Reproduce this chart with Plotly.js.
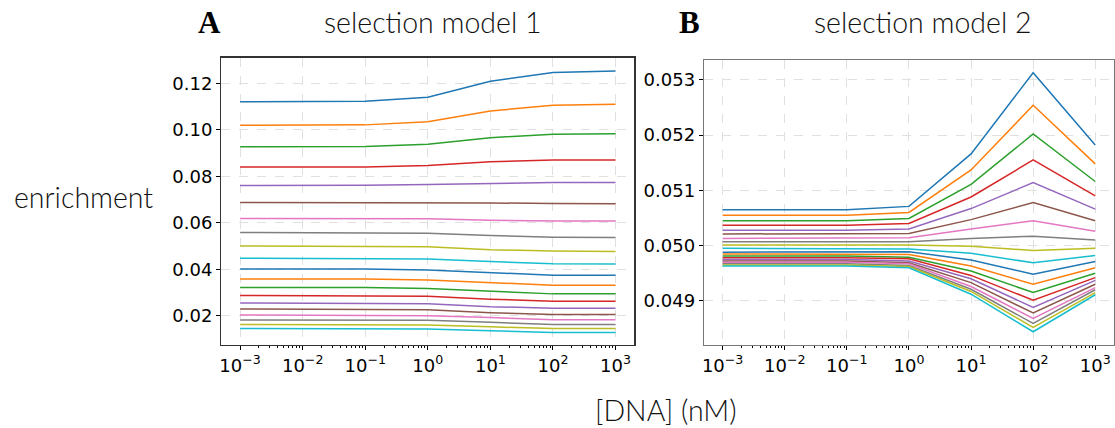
<!DOCTYPE html>
<html>
<head>
<meta charset="utf-8">
<script src="https://cdn.plot.ly/plotly-3.0.1.min.js"></script>
<style>
  html, body { margin: 0; padding: 0; background: #ffffff; }
  #chart { width: 1115px; height: 428px; }
</style>
</head>
<body>
<div id="chart"></div>
<script>
// ---- data ----
const concentrations = [0.001, 0.01, 0.1, 1, 10, 100, 1000];

const model1 = [
  [0.1120, 0.1120, 0.1123, 0.1140, 0.1209, 0.1246, 0.1253],
  [0.1019, 0.1019, 0.1021, 0.1034, 0.1081, 0.1105, 0.1110],
  [0.0927, 0.0927, 0.0928, 0.0938, 0.0966, 0.0981, 0.0983],
  [0.0840, 0.0840, 0.0840, 0.0846, 0.0862, 0.0870, 0.0870],
  [0.0760, 0.0760, 0.0761, 0.0764, 0.0768, 0.0773, 0.0773],
  [0.0687, 0.0687, 0.0687, 0.0687, 0.0685, 0.0683, 0.0682],
  [0.0618, 0.0618, 0.0618, 0.0617, 0.0611, 0.0607, 0.0607],
  [0.0558, 0.0558, 0.0558, 0.0555, 0.0545, 0.0538, 0.0536],
  [0.0500, 0.0500, 0.0500, 0.0497, 0.0484, 0.0478, 0.0476],
  [0.0447, 0.0447, 0.0447, 0.0444, 0.0433, 0.0424, 0.0423],
  [0.0401, 0.0401, 0.0401, 0.0397, 0.0384, 0.0374, 0.0374],
  [0.0358, 0.0358, 0.0358, 0.0354, 0.0341, 0.0331, 0.0331],
  [0.0321, 0.0321, 0.0321, 0.0317, 0.0304, 0.0294, 0.0294],
  [0.0287, 0.0287, 0.0287, 0.0284, 0.0271, 0.0262, 0.0262],
  [0.0255, 0.0255, 0.0255, 0.0252, 0.0239, 0.0232, 0.0232],
  [0.0229, 0.0229, 0.0229, 0.0226, 0.0213, 0.0205, 0.0205],
  [0.0203, 0.0203, 0.0203, 0.0200, 0.0192, 0.0183, 0.0183],
  [0.0182, 0.0182, 0.0182, 0.0180, 0.0172, 0.0162, 0.0162],
  [0.0162, 0.0162, 0.0162, 0.0160, 0.0152, 0.0145, 0.0145],
  [0.0145, 0.0145, 0.0145, 0.0143, 0.0135, 0.0128, 0.0128]
];

const model2 = [
  [0.05065, 0.05065, 0.05065, 0.05071, 0.05166, 0.05313, 0.05182],
  [0.05055, 0.05055, 0.05055, 0.05060, 0.05137, 0.05254, 0.05148],
  [0.05045, 0.05045, 0.05045, 0.05049, 0.05111, 0.05202, 0.05116],
  [0.05037, 0.05037, 0.05037, 0.05040, 0.05088, 0.05155, 0.05090],
  [0.05028, 0.05028, 0.05028, 0.05030, 0.05067, 0.05114, 0.05066],
  [0.05021, 0.05021, 0.05021, 0.05022, 0.05047, 0.05078, 0.05045],
  [0.05013, 0.05013, 0.05013, 0.05014, 0.05030, 0.05045, 0.05026],
  [0.05007, 0.05007, 0.05007, 0.05007, 0.05013, 0.05017, 0.05010],
  [0.05001, 0.05001, 0.05001, 0.05001, 0.04999, 0.04991, 0.04995],
  [0.04995, 0.04995, 0.04995, 0.04994, 0.04986, 0.04969, 0.04982],
  [0.04988, 0.04988, 0.04988, 0.04989, 0.04974, 0.04948, 0.04971],
  [0.04985, 0.04985, 0.04985, 0.04984, 0.04963, 0.04930, 0.04960],
  [0.04981, 0.04981, 0.04981, 0.04979, 0.04954, 0.04915, 0.04950],
  [0.04978, 0.04978, 0.04978, 0.04976, 0.04946, 0.04901, 0.04942],
  [0.04975, 0.04975, 0.04975, 0.04972, 0.04940, 0.04888, 0.04937],
  [0.04972, 0.04972, 0.04972, 0.04969, 0.04933, 0.04878, 0.04930],
  [0.04970, 0.04970, 0.04970, 0.04967, 0.04926, 0.04868, 0.04924],
  [0.04967, 0.04967, 0.04967, 0.04964, 0.04921, 0.04859, 0.04920],
  [0.04965, 0.04965, 0.04965, 0.04962, 0.04917, 0.04852, 0.04915],
  [0.04963, 0.04963, 0.04963, 0.04960, 0.04912, 0.04844, 0.04911]
];

const xTickVals = [0.001, 0.01, 0.1, 1, 10, 100, 1000];
const xTickText = ['10<sup>−3</sup>', '10<sup>−2</sup>', '10<sup>−1</sup>', '10<sup>0</sup>', '10<sup>1</sup>', '10<sup>2</sup>', '10<sup>3</sup>'];
const xMinorVals = [0.002, 0.003, 0.004, 0.005, 0.006, 0.007, 0.008, 0.009,
                    0.02, 0.03, 0.04, 0.05, 0.06, 0.07, 0.08, 0.09,
                    0.2, 0.3, 0.4, 0.5, 0.6, 0.7, 0.8, 0.9,
                    2, 3, 4, 5, 6, 7, 8, 9, 20, 30, 40, 50, 60, 70, 80, 90,
                    200, 300, 400, 500, 600, 700, 800, 900];
const y1TickVals = [0.02, 0.04, 0.06, 0.08, 0.10, 0.12];
const y1TickText = ['0.02', '0.04', '0.06', '0.08', '0.10', '0.12'];
const y2TickVals = [0.049, 0.050, 0.051, 0.052, 0.053];
const y2TickText = ['0.049', '0.050', '0.051', '0.052', '0.053'];

const palette = ['#1f77b4', '#ff7f0e', '#2ca02c', '#d62728', '#9467bd',
                 '#8c564b', '#e377c2', '#7f7f7f', '#bcbd22', '#17becf'];

// ---- traces ----
const traces = [];
model1.forEach((ys, i) => {
  traces.push({x: concentrations, y: ys, type: 'scatter', mode: 'lines',
    line: {color: palette[i % 10], width: 1.5}, xaxis: 'x', yaxis: 'y', showlegend: false, hoverinfo: 'skip'});
});
model2.forEach((ys, i) => {
  traces.push({x: concentrations, y: ys, type: 'scatter', mode: 'lines',
    line: {color: palette[i % 10], width: 1.5}, xaxis: 'x2', yaxis: 'y2', showlegend: false, hoverinfo: 'skip'});
});

const tickFont = {family: 'DejaVu Sans', size: 18, color: '#000'};
function xAxis(domain, anchor, lineColor) {
  return {
    type: 'log', domain: domain, anchor: anchor, range: [-3.3, 3.3],
    tickvals: xTickVals, ticktext: xTickText, tickfont: tickFont,
    ticks: 'outside', ticklen: 4, tickwidth: 1, tickcolor: '#000',
    showline: true, linecolor: lineColor, linewidth: 1.3, mirror: true,
    showgrid: true, gridcolor: '#e0e0e0', griddash: 'dash', gridwidth: 1,
    zeroline: false,
    minor: {ticks: 'outside', ticklen: 2, tickcolor: '#000', showgrid: false, tickvals: xMinorVals}
  };
}
function yAxis(domain, anchor, range, vals, text, lineColor) {
  return {
    domain: domain, anchor: anchor, range: range,
    tickvals: vals, ticktext: text, tickfont: tickFont,
    ticks: 'outside', ticklen: 4, tickwidth: 1, tickcolor: '#000',
    showline: true, linecolor: lineColor, linewidth: 1.3, mirror: true,
    showgrid: true, gridcolor: '#e0e0e0', griddash: 'dash', gridwidth: 1,
    zeroline: false
  };
}

const titleFont = {family: 'Lato', size: 28.5, weight: 300, color: '#111'};
const labelFont = {family: 'Lato', size: 28.5, weight: 300, color: '#111'};
const layout = {
  width: 1115, height: 428,
  margin: {l: 0, r: 0, t: 0, b: 0},
  paper_bgcolor: '#ffffff', plot_bgcolor: '#ffffff',
  showlegend: false,
  xaxis: xAxis([0.1985, 0.5689], 'y', '#333'),
  yaxis: yAxis([0.1939, 0.8652], 'x', [0.0074, 0.1310], y1TickVals, y1TickText, '#333'),
  xaxis2: xAxis([0.6314, 0.9990], 'y2', '#777'),
  yaxis2: yAxis([0.1939, 0.8598], 'x2', [0.04820, 0.05336], y2TickVals, y2TickText, '#777'),
  annotations: [
    {text: 'selection model 1', x: 432 / 1115, y: 1 - 22 / 428, xref: 'paper', yref: 'paper',
     xanchor: 'center', yanchor: 'middle', showarrow: false, font: titleFont},
    {text: 'selection model 2', x: 922 / 1115, y: 1 - 22 / 428, xref: 'paper', yref: 'paper',
     xanchor: 'center', yanchor: 'middle', showarrow: false, font: titleFont},
    {text: '<b>A</b>', x: 209 / 1115, y: 1 - 23 / 428, xref: 'paper', yref: 'paper',
     xanchor: 'center', yanchor: 'middle', showarrow: false,
     font: {family: 'Liberation Serif', size: 31, color: '#000'}},
    {text: '<b>B</b>', x: 689 / 1115, y: 1 - 23 / 428, xref: 'paper', yref: 'paper',
     xanchor: 'center', yanchor: 'middle', showarrow: false,
     font: {family: 'Liberation Serif', size: 31, color: '#000'}},
    {text: 'enrichment', x: 83 / 1115, y: 1 - 197 / 428, xref: 'paper', yref: 'paper',
     xanchor: 'center', yanchor: 'middle', showarrow: false, font: labelFont},
    {text: '[DNA] (nM)', x: 666 / 1115, y: 1 - 410 / 428, xref: 'paper', yref: 'paper',
     xanchor: 'center', yanchor: 'middle', showarrow: false, font: labelFont}
  ]
};

Plotly.newPlot('chart', traces, layout, {staticPlot: true, displayModeBar: false});
</script>
</body>
</html>
